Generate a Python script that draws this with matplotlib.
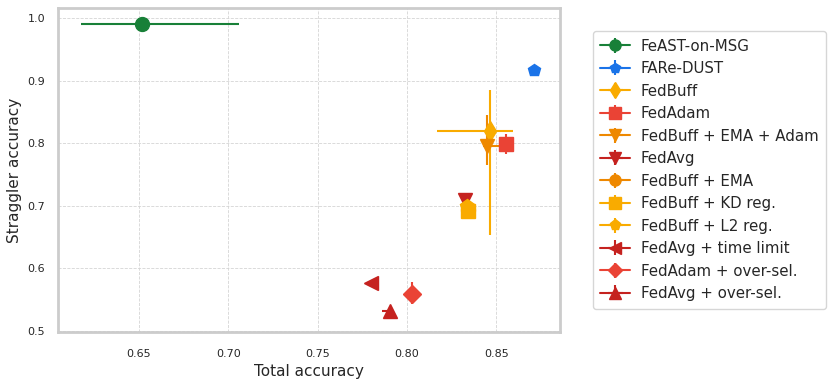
import matplotlib.pyplot as plt
import seaborn as sns

sns.set_theme(style="whitegrid")
plt.rcParams['font.family'] = ['DejaVu Sans']

methods = ["FeAST-on-MSG", "FARe-DUST", "FedBuff", "FedAdam", "FedBuff + EMA + Adam",
           "FedAvg", "FedBuff + EMA", "FedBuff + KD reg.", "FedBuff + L2 reg.",
           "FedAvg + time limit", "FedAdam + over-sel.", "FedAvg + over-sel."]
total_acc = [0.6517, 0.8713, 0.8466, 0.8556, 0.8446, 0.8328, 0.8340, 0.8344, 0.8338, 0.7797, 0.8028, 0.7907]
straggler_acc = [0.990, 0.917, 0.8196, 0.798, 0.7955, 0.709, 0.693, 0.692, 0.699, 0.577, 0.5585, 0.532]
x_err_lo = [0.034, 0.0, 0.030, 0.002, 0.002, 0.0, 0.0, 0.0, 0.0, 0.002, 0.0, 0.0045]
x_err_hi = [0.054, 0.0, 0.013, 0.002, 0.0078, 0.0, 0.0, 0.0, 0.0, 0.002, 0.0, 0.0]
y_err_lo = [0.0, 0.0, 0.166, 0.016, 0.030, 0.0, 0.0, 0.0, 0.0, 0.0, 0.016, 0.004]
y_err_hi = [0.0, 0.0, 0.066, 0.016, 0.050, 0.0, 0.0, 0.0, 0.0, 0.0, 0.020, 0.004]
markers = ["o", "p", "d", "s", "v", "v", "o", "s", "p", "<", "D", "^"]
colors = ["#188038", "#1a73e8", "#f9ab00", "#ea4335", "#ee8800", "#c5221f",
          "#ee8800", "#f9ab00", "#f9ab00", "#c5221f", "#ea4335", "#c5221f"]
sizes = [10, 9, 10, 10, 10, 10, 10, 10, 10, 10, 9, 10]

fig, ax = plt.subplots(figsize=(8.31, 3.85), dpi=100)
for i, name in enumerate(methods):
    ax.errorbar(total_acc[i], straggler_acc[i],
                xerr=[[x_err_lo[i]], [x_err_hi[i]]],
                yerr=[[y_err_lo[i]], [y_err_hi[i]]],
                fmt='-' + markers[i], color=colors[i], ms=sizes[i], elinewidth=1.5,
                label=name)

ax.set_xlim(0.6047, 0.8858)
ax.set_ylim(0.4985, 1.016)
ax.set_xticks([0.65, 0.70, 0.75, 0.80, 0.85])
ax.set_yticks([0.5, 0.6, 0.7, 0.8, 0.9, 1.0])
ax.tick_params(labelsize=8)
ax.tick_params(axis='x', pad=6)
ax.set_xlabel("Total accuracy", fontsize=11, labelpad=4)
ax.set_ylabel("Straggler accuracy", fontsize=11)
ax.grid(True, linestyle='--', linewidth=0.6, color='#d5d5d5')
for s in ax.spines.values():
    s.set_color('#cccccc')
    s.set_linewidth(2)

ax.legend(loc='center left', bbox_to_anchor=(1.05, 0.5), fontsize=10.8,
          frameon=True, edgecolor='#cccccc', borderpad=0.5, labelspacing=0.5,
          markerscale=0.8, handlelength=2.0, handletextpad=0.7)
fig.subplots_adjust(left=0.07, right=0.674, top=0.979, bottom=0.138)
fig.savefig("out.png", dpi=100)
